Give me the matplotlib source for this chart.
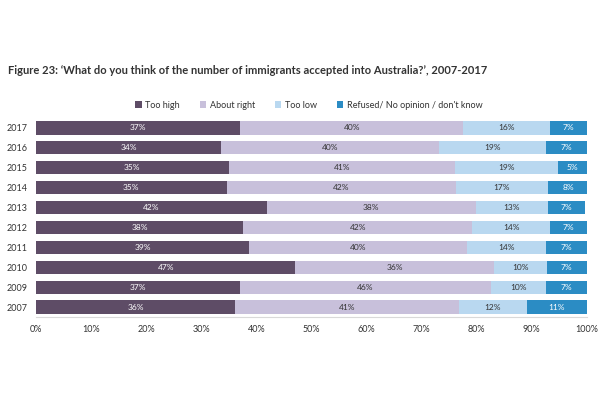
import matplotlib
matplotlib.use("Agg")
import matplotlib.pyplot as plt
import numpy as np

plt.rcParams['font.family'] = ['Lato', 'DejaVu Sans']

years = ['2017', '2016', '2015', '2014', '2013', '2012', '2011', '2010', '2009', '2007']
too_high = [37.1, 33.6, 35.0, 34.6, 41.9, 37.6, 38.7, 47.1, 37.0, 36.1]
about_right = [40.4, 39.6, 41.0, 41.6, 37.9, 41.6, 39.5, 36.0, 45.6, 40.7]
too_low = [15.8, 19.4, 18.7, 16.7, 13.2, 14.2, 14.4, 9.6, 10.0, 12.3]
refused = [6.7, 7.4, 5.3, 7.6, 6.7, 6.6, 7.4, 7.3, 7.4, 10.9]

series = [
    ('Too high', too_high, '#5e4c66', 'white'),
    ('About right', about_right, '#c8c0db', '#333333'),
    ('Too low', too_low, '#b9d8f0', '#333333'),
    ('Refused/ No opinion / don\'t know', refused, '#2b8cc4', 'white'),
]

fig = plt.figure(figsize=(6, 4), dpi=100)
ax = fig.add_axes([0.06, 0.2075, 0.918, 0.4975])

y = np.arange(len(years))
left = np.zeros(len(years))
for name, vals, col, tcol in series:
    vals = np.array(vals, dtype=float)
    ax.barh(y, vals, left=left, height=0.66, color=col, label=name)
    for yi, l, v in zip(y, left, vals):
        ax.text(l + v / 2, yi, '%.0f%%' % v, ha='center', va='center',
                fontsize=6, color=tcol)
    left = left + vals

ax.set_xlim(0, 100)
ax.set_ylim(len(years) - 0.5, -0.5)
ax.set_yticks(y)
ax.set_yticklabels(years, fontsize=6.5, color='#333333')
ax.set_xticks(np.arange(0, 101, 10))
ax.set_xticklabels(['%d%%' % v for v in range(0, 101, 10)], fontsize=6.5, color='#333333')
ax.tick_params(length=0, pad=6)
for s in ['top', 'right', 'left']:
    ax.spines[s].set_visible(False)
ax.spines['bottom'].set_color('#d9d9d9')

fig.text(0.013, 0.825, "Figure 23: \u2018What do you think of the number of immigrants accepted into Australia?\u2019, 2007-2017",
         fontsize=8, fontweight='bold', color='#333333', va='center')

fig.legend(loc='center', bbox_to_anchor=(0.515, 0.737), ncol=4, frameon=False,
           fontsize=6.5, handlelength=0.7, handleheight=0.7, columnspacing=2.2,
           handletextpad=0.4, labelcolor='#333333')

plt.savefig('out.png')
